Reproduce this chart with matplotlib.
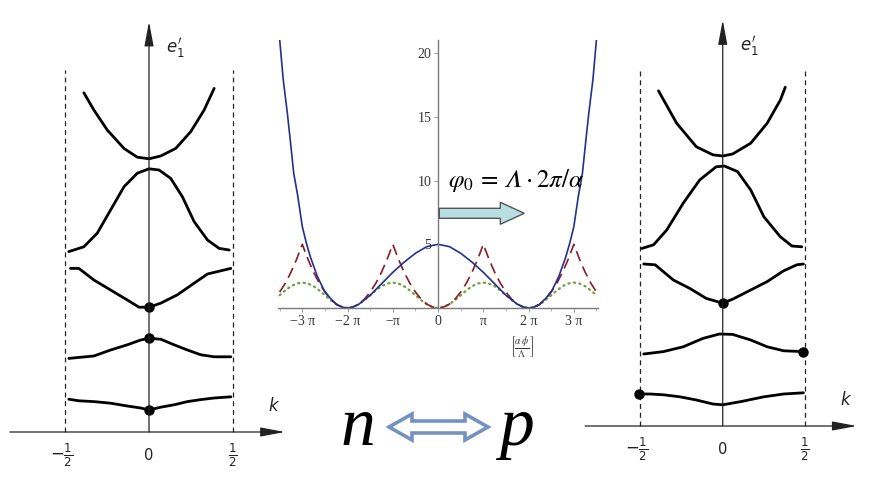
import numpy as np
import matplotlib
matplotlib.use("Agg")
import matplotlib.pyplot as plt
from matplotlib.patches import Polygon, FancyArrow

W, H = 886, 499

# ---- hand drawn band panels (k in units of the zone, e in arbitrary units)
left_bands_k = [
    [-0.48, -0.42, -0.33, -0.23, -0.13, -0.05, 0.0, 0.07, 0.15, 0.23, 0.31, 0.39, 0.49],
    [-0.48, -0.33, -0.23, -0.13, -0.05, 0.0, 0.07, 0.15, 0.23, 0.31, 0.39, 0.49],
    [-0.47, -0.42, -0.33, -0.23, -0.13, -0.06, 0.0, 0.07, 0.17, 0.27, 0.35, 0.43, 0.49],
    [-0.48, -0.39, -0.31, -0.23, -0.15, -0.07, 0.0, 0.06, 0.13, 0.20, 0.27, 0.35, 0.42, 0.48],
    [-0.39, -0.33, -0.25, -0.15, -0.07, 0.0, 0.07, 0.16, 0.25, 0.33, 0.39],
]
left_bands_e = [
    [0.82, 0.78, 0.76, 0.72, 0.65, 0.60, 0.55, 0.62, 0.68, 0.76, 0.81, 0.85, 0.88],
    [1.84, 1.90, 2.05, 2.18, 2.30, 2.34, 2.32, 2.18, 2.05, 1.93, 1.88, 1.88],
    [4.09, 4.09, 3.80, 3.55, 3.30, 3.12, 3.12, 3.22, 3.43, 3.72, 3.95, 4.03, 4.09],
    [4.51, 4.63, 4.97, 5.55, 6.13, 6.47, 6.58, 6.55, 6.34, 5.88, 5.26, 4.80, 4.59, 4.55],
    [8.48, 8.05, 7.55, 7.09, 6.87, 6.83, 6.90, 7.09, 7.51, 8.05, 8.59],
]
left_dots_k = [0.0, 0.0, 0.0]
left_dots_e = [0.55, 2.34, 3.12]

right_bands_k = [
    [-0.51, -0.44, -0.36, -0.26, -0.16, -0.06, 0.0, 0.11, 0.25, 0.37, 0.49],
    [-0.48, -0.36, -0.24, -0.12, -0.02, 0.06, 0.17, 0.27, 0.37, 0.49],
    [-0.48, -0.41, -0.30, -0.20, -0.10, 0.0, 0.06, 0.17, 0.27, 0.37, 0.45, 0.49],
    [-0.49, -0.42, -0.34, -0.24, -0.14, -0.04, 0.01, 0.09, 0.17, 0.25, 0.35, 0.42, 0.48],
    [-0.39, -0.28, -0.16, -0.06, 0.0, 0.06, 0.17, 0.27, 0.35, 0.38],
]
right_bands_e = [
    [0.80, 0.80, 0.78, 0.73, 0.65, 0.55, 0.53, 0.61, 0.73, 0.80, 0.83],
    [1.80, 1.86, 1.98, 2.19, 2.30, 2.29, 2.15, 1.98, 1.88, 1.86],
    [4.05, 4.03, 3.65, 3.44, 3.19, 3.07, 3.17, 3.40, 3.61, 3.88, 4.03, 4.05],
    [4.44, 4.53, 4.90, 5.57, 6.15, 6.48, 6.50, 6.36, 5.90, 5.23, 4.73, 4.50, 4.48],
    [8.38, 7.57, 6.98, 6.78, 6.75, 6.80, 7.07, 7.57, 8.15, 8.47],
]
right_dots_k = [-0.51, 0.0, 0.49]
right_dots_e = [0.80, 3.07, 1.86]

zone_labels = [r"$-\frac{1}{2}$", "0", r"$\frac{1}{2}$"]
zone_ticks = [-0.5, 0.0, 0.5]

# ---- middle potential plot (phi in units of pi)
phi_blue = [-3.5, -3.42, -3.33, -3.26, -3.19, -3.1, -3.0, -2.91, -2.82, -2.67, -2.52,
            -2.38, -2.23, -2.1, -2.0, -1.9, -1.75, -1.5, -1.25, -1.0, -0.75, -0.5,
            -0.25, 0.0, 0.25, 0.5, 0.75, 1.0, 1.25, 1.5, 1.75, 1.9, 2.0, 2.1, 2.23,
            2.38, 2.52, 2.67, 2.82, 2.91, 3.0, 3.1, 3.19, 3.26, 3.33, 3.42, 3.5]
v_blue = [21.1, 17.9, 15.3, 13.0, 10.6, 8.8, 6.4, 5.1, 4.0, 2.5, 1.4,
          0.76, 0.24, 0.05, 0.0, 0.05, 0.3, 1.0, 1.9, 2.8, 3.6, 4.3,
          4.82, 5.0, 4.82, 4.3, 3.6, 2.8, 1.9, 1.0, 0.3, 0.05, 0.0, 0.05, 0.24,
          0.76, 1.4, 2.5, 4.0, 5.1, 6.4, 8.8, 10.6, 13.0, 15.3, 17.9, 21.1]
phi_grid = np.linspace(-3.5, 3.5, 57)
v_red = [1.25, 1.95, 2.81, 3.83, 5.0, 3.83, 2.81, 1.95, 1.25, 0.70, 0.31, 0.08, 0.0,
         0.08, 0.31, 0.70, 1.25, 1.95, 2.81, 3.83, 5.0, 3.83, 2.81, 1.95, 1.25, 0.70,
         0.31, 0.08, 0.0,
         0.08, 0.31, 0.70, 1.25, 1.95, 2.81, 3.83, 5.0, 3.83, 2.81, 1.95, 1.25, 0.70,
         0.31, 0.08, 0.0, 0.08, 0.31, 0.70, 1.25, 1.95, 2.81, 3.83, 5.0, 3.83, 2.81,
         1.95, 1.25]
v_green = [1.0, 1.38, 1.71, 1.92, 2.0, 1.92, 1.71, 1.38, 1.0, 0.62, 0.29, 0.08, 0.0,
           0.08, 0.29, 0.62, 1.0, 1.38, 1.71, 1.92, 2.0, 1.92, 1.71, 1.38, 1.0, 0.62,
           0.29, 0.08, 0.0,
           0.08, 0.29, 0.62, 1.0, 1.38, 1.71, 1.92, 2.0, 1.92, 1.71, 1.38, 1.0, 0.62,
           0.29, 0.08, 0.0, 0.08, 0.29, 0.62, 1.0, 1.38, 1.71, 1.92, 2.0, 1.92, 1.71,
           1.38, 1.0]
pi_ticks = [-3, -2, -1, 0, 1, 2, 3]
pi_labels = ["\u22123 \u03c0", "\u22122 \u03c0", "\u2212\u03c0", "0", "\u03c0", "2 \u03c0", "3 \u03c0"]
y_ticks = [5, 10, 15, 20]


fig = plt.figure(figsize=(W / 100, H / 100), dpi=100)


def px_axes(x0, y0, x1, y1):
    return fig.add_axes([x0 / W, 1 - y1 / H, (x1 - x0) / W, (y1 - y0) / H])


def band_panel(ax, bands_k, bands_e, dots_k, dots_e, xaxis, etop, dash_top):
    ax.axis("off")
    arrow = dict(arrowstyle="-|>,head_length=1.5,head_width=0.28", color="#222",
                 lw=0.9, mutation_scale=10, shrinkA=0, shrinkB=0)
    ax.annotate("", xy=(xaxis[1], 0), xytext=(xaxis[0], 0), arrowprops=arrow)
    ax.annotate("", xy=(0, etop), xytext=(0, 0), arrowprops=arrow)
    for kx in (-0.5, 0.5):
        ax.plot([kx, kx], [0, dash_top], color="#222", lw=0.9, ls=(0, (4, 3)))
    for kk, ee in zip(bands_k, bands_e):
        ax.plot(kk, ee, color="black", lw=2.0, solid_capstyle="round",
                solid_joinstyle="round")
    ax.plot(dots_k, dots_e, "o", color="black", ms=6.5, ls="none")
    for t, lab in zip(zone_ticks, zone_labels):
        ax.text(t - (0.02 if t < 0 else 0), -0.58, lab, ha="center", va="center",
                fontsize=12 if t != 0 else 10.5, color="#222",
                math_fontfamily="dejavusans")
    ax.text(0.16, etop - 0.65, r"$e_{1}'$", fontsize=12, color="#222",
            ha="center", va="center", math_fontfamily="dejavusans")
    ax.text(xaxis[1] - 0.07, 0.65, "k", fontsize=12, style="italic",
            color="#222", ha="center", va="center")


# left panel: axis at x=149, y=432 px, 167 px per k, 40 px per e
ax_l = px_axes(0, 10, 290, 480)
ax_l.set_xlim(-0.892, 0.844)
ax_l.set_ylim(-1.2, 10.55)
band_panel(ax_l, left_bands_k, left_bands_e, left_dots_k, left_dots_e,
           (-0.832, 0.814), 10.26, 9.05)

# right panel: axis at x=722.7, y=426 px
ax_r = px_axes(575, 10, 880, 480)
ax_r.set_xlim(-0.897, 0.955)
ax_r.set_ylim(-1.35, 10.4)
band_panel(ax_r, right_bands_k, right_bands_e, right_dots_k, right_dots_e,
           (-0.836, 0.814), 10.15, 8.94)

# middle plot
ax_m = px_axes(278.3, 40, 598.3, 308)
ax_m.set_facecolor("none")
ax_m.plot(np.array(phi_grid) * np.pi, v_green, color="#6f9f3f", lw=1.6,
          ls=(0, (0.6, 1.9)), dash_capstyle="round")
ax_m.plot(np.array(phi_grid) * np.pi, v_red, color="#8e1b22", lw=1.2,
          ls=(0, (6.5, 3.5)))
ax_m.plot(np.array(phi_blue) * np.pi, v_blue, color="#22308f", lw=1.2)
ax_m.set_xlim(-3.53 * np.pi, 3.54 * np.pi)
ax_m.set_ylim(0, 21.05)
for s in ("top", "right"):
    ax_m.spines[s].set_visible(False)
ax_m.spines["left"].set_position(("data", 0))
ax_m.spines["bottom"].set_position(("data", 0))
for s in ("left", "bottom"):
    ax_m.spines[s].set_color("#7a7a7a")
    ax_m.spines[s].set_linewidth(1.0)
ax_m.set_xticks(np.array(pi_ticks) * np.pi)
ax_m.set_xticklabels(pi_labels)
ax_m.set_xticks(np.arange(-3.5, 3.6, 0.5) * np.pi, minor=True)
ax_m.set_yticks(y_ticks)
ax_m.set_yticklabels([str(v) for v in y_ticks])
ax_m.tick_params(axis="both", which="major", length=3, width=0.6, color="#888",
                 labelsize=10, labelcolor="#333", pad=2)
ax_m.tick_params(axis="x", which="minor", length=2, width=0.5, color="#999")
for lab in ax_m.get_xticklabels() + ax_m.get_yticklabels():
    lab.set_family("Liberation Serif")
fig.text(521.7 / W, 1 - 346.7 / H, r"$\left[\frac{\alpha\,\phi}{\Lambda}\right]$",
         ha="center", va="center", fontsize=10, color="#333",
         math_fontfamily="stix")

# overlay in pixel coordinates for the decorations
ov = fig.add_axes([0, 0, 1, 1])
ov.set_xlim(0, W)
ov.set_ylim(H, 0)
ov.axis("off")

ov.text(515.5, 180, "$\\varphi_0\\,=\\,\U0001D6EC\\cdot 2\\pi/\\alpha$", ha="center",
        va="center", fontsize=18, color="black", math_fontfamily="stix")
ov.add_patch(FancyArrow(439.3, 213.3, 85, 0, width=10, head_width=22,
                        head_length=24, length_includes_head=True,
                        fc="#b7dfe3", ec="#555555", lw=1.0))

ov.text(358, 445, "n", ha="center", va="baseline", fontsize=50,
        family="Liberation Serif", style="italic")
ov.text(516, 445, "p", ha="center", va="baseline", fontsize=50,
        family="Liberation Serif", style="italic")

x0, x1, yc, hh, sh, hl = 389, 488, 427, 13, 6, 23
ov.add_patch(Polygon([(x0, yc), (x0 + hl, yc - hh), (x0 + hl, yc - sh),
                      (x1 - hl, yc - sh), (x1 - hl, yc - hh), (x1, yc),
                      (x1 - hl, yc + hh), (x1 - hl, yc + sh), (x0 + hl, yc + sh),
                      (x0 + hl, yc + hh)], closed=True, fc="white",
                     ec="#7392c0", lw=2.6, joinstyle="miter"))

fig.savefig("out.png", dpi=100)
